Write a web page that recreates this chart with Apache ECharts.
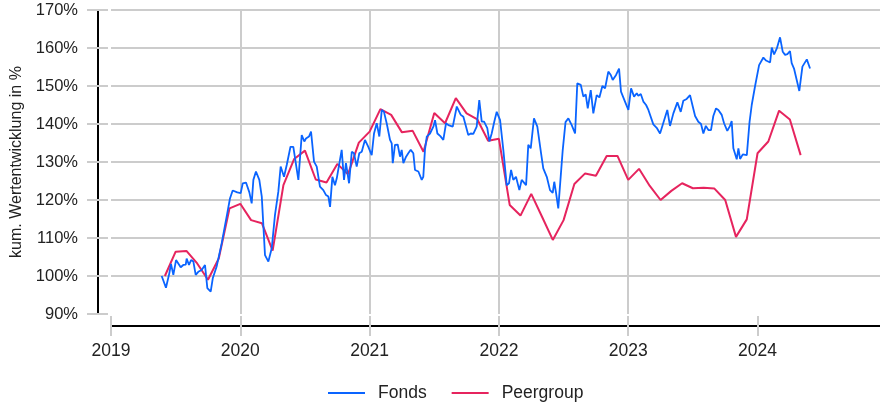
<!DOCTYPE html>
<html>
<head>
<meta charset="utf-8">
<script src="https://cdn.jsdelivr.net/npm/echarts@6/dist/echarts.min.js"></script>
<style>
html,body{margin:0;padding:0;background:#fff;}
#chart{width:880px;height:406px;}
</style>
</head>
<body>
<div id="chart"></div>
<script>
// Fonds: weekly observations (time in decimal years, value in %)
const fondsT = [
2019.392,2019.425,2019.451,2019.464,2019.482,2019.503,2019.513,2019.539,2019.559,2019.578,
2019.585,2019.603,2019.619,2019.637,2019.655,2019.675,2019.701,2019.727,2019.745,2019.771,
2019.787,2019.817,2019.856,2019.882,2019.899,2019.920,2019.941,2019.977,2020.003,2020.019,
2020.044,2020.070,2020.088,2020.101,2020.121,2020.147,2020.166,2020.191,2020.217,2020.243,
2020.268,2020.294,2020.312,2020.338,2020.359,2020.388,2020.410,2020.423,2020.449,2020.475,
2020.495,2020.508,2020.531,2020.547,2020.570,2020.591,2020.616,2020.642,2020.663,2020.681,
2020.694,2020.712,2020.732,2020.746,2020.758,2020.784,2020.802,2020.817,2020.841,2020.862,
2020.879,2020.900,2020.920,2020.939,2020.964,2020.990,2021.016,2021.034,2021.055,2021.075,
2021.094,2021.111,2021.132,2021.158,2021.171,2021.179,2021.196,2021.217,2021.235,2021.248,
2021.261,2021.282,2021.299,2021.318,2021.338,2021.351,2021.377,2021.403,2021.415,2021.428,
2021.442,2021.467,2021.493,2021.506,2021.524,2021.547,2021.570,2021.591,2021.609,2021.643,
2021.674,2021.705,2021.725,2021.738,2021.763,2021.782,2021.802,2021.828,2021.848,2021.867,
2021.885,2021.910,2021.926,2021.944,2021.964,2021.983,2022.009,2022.034,2022.060,2022.078,
2022.094,2022.111,2022.132,2022.158,2022.176,2022.210,2022.227,2022.246,2022.271,2022.297,
2022.326,2022.343,2022.370,2022.395,2022.416,2022.428,2022.442,2022.459,2022.493,2022.515,
2022.537,2022.563,2022.589,2022.606,2022.633,2022.653,2022.671,2022.687,2022.710,2022.730,
2022.756,2022.777,2022.800,2022.821,2022.846,2022.865,2022.880,2022.906,2022.929,2022.944,
2022.975,2023.001,2023.022,2023.045,2023.066,2023.078,2023.097,2023.117,2023.138,2023.156,
2023.169,2023.194,2023.220,2023.246,2023.264,2023.277,2023.302,2023.323,2023.349,2023.380,
2023.406,2023.426,2023.452,2023.478,2023.499,2023.517,2023.542,2023.563,2023.581,2023.600,
2023.620,2023.640,2023.658,2023.679,2023.697,2023.723,2023.741,2023.766,2023.787,2023.800,
2023.813,2023.839,2023.852,2023.865,2023.886,2023.917,2023.938,2023.955,2023.981,2024.012,
2024.045,2024.066,2024.097,2024.110,2024.128,2024.149,2024.174,2024.195,2024.213,2024.231,
2024.251,2024.264,2024.282,2024.303,2024.323,2024.347,2024.381,2024.406
];
const fondsV = [
100.0,96.9,100.7,103.2,100.3,104.2,104.6,102.3,102.9,103.0,
104.6,102.9,104.2,103.8,100.3,101.1,101.6,102.9,96.8,95.9,
99.4,102.5,108.6,113.4,116.5,120.4,122.5,122.0,121.8,124.4,
124.6,122.0,119.1,125.3,127.5,125.3,120.9,105.5,103.8,107.3,
116.0,122.2,128.8,126.1,129.2,134.0,134.0,133.6,125.3,137.1,
135.4,136.2,136.7,138.0,130.1,128.8,123.5,122.6,121.3,120.9,
118.2,126.1,123.9,125.7,125.3,133.2,125.3,129.7,124.4,132.7,
132.3,128.8,132.3,132.7,135.8,134.0,131.8,137.5,140.2,136.7,
143.7,143.2,140.2,135.8,134.9,129.7,134.5,134.6,131.4,133.2,
129.7,131.4,132.3,133.2,132.3,127.9,127.5,125.3,126.1,133.2,
136.7,137.5,139.3,141.0,137.5,136.8,135.8,140.2,139.7,139.3,
144.6,142.4,141.9,141.9,137.1,137.5,137.4,139.3,146.3,140.6,
140.6,138.9,135.4,137.5,140.6,143.2,141.0,133.2,123.9,124.4,
127.9,125.3,126.1,122.6,125.3,123.9,134.5,133.6,141.5,139.3,
132.3,128.3,126.1,122.6,121.9,124.8,121.8,117.8,133.0,140.5,
141.5,139.7,137.5,150.7,150.3,147.2,147.8,144.1,148.9,142.8,
147.6,147.0,150.0,149.4,153.8,152.9,151.6,152.9,154.6,148.5,
145.9,143.7,149.4,147.2,148.1,147.4,147.9,145.9,145.0,143.7,
143.2,139.9,139.0,137.5,139.5,139.0,143.7,139.5,142.8,145.7,
143.2,146.1,146.6,147.6,144.6,142.1,140.6,140.0,137.5,139.5,
138.4,138.4,142.1,144.1,143.7,142.4,140.2,138.2,139.5,140.8,
133.6,130.7,133.6,130.8,132.0,131.8,140.5,145.0,150.0,155.5,
157.5,156.7,156.2,160.1,158.3,159.9,162.8,159.0,158.2,158.4,
159.2,156.0,154.6,151.6,148.7,155.1,157.0,154.6
];
// Peergroup: month-end observations starting May 2019
const peerStartYear = 2019;
const peerStartMonth = 5;
const peerV = [
100.0,106.4,106.6,103.3,99.0,104.6,117.8,119.0,114.7,113.9,
106.7,123.9,130.8,133.0,125.4,124.6,129.5,126.8,135.1,138.0,
143.9,142.4,137.8,138.2,132.7,142.9,140.2,146.8,142.8,141.2,
135.6,136.1,118.7,115.9,121.6,115.6,109.5,114.7,124.2,127.0,
126.4,131.6,131.6,125.3,128.2,123.7,120.0,122.4,124.4,123.1,
123.2,123.0,120.0,110.3,114.9,132.3,135.4,143.5,141.2,131.8
];
const yearTicks = [2019,2020,2021,2022,2023,2024];
const yTicks = [90,100,110,120,130,140,150,160,170];
const seriesNames = ['Fonds','Peergroup'];

const fondsData = fondsT.map((t,i)=>[t,fondsV[i]]);
const peerData = peerV.map((v,i)=>[peerStartYear + (peerStartMonth + i)/12, v]);

const FONT = "'Liberation Sans', Arial, Helvetica, sans-serif";
const GRID = '#cccccc';
const XMAX = 2024.947;

const chart = echarts.init(document.getElementById('chart'), null, {renderer:'canvas'});
chart.setOption({
  animation:false,
  backgroundColor:'#ffffff',
  textStyle:{fontFamily:FONT},
  grid:{left:111,right:0,top:10,bottom:92,containLabel:false},
  legend:{
    top:379,left:323,
    data:seriesNames,
    icon:'rect',itemWidth:37,itemHeight:2,itemGap:25,
    textStyle:{fontFamily:FONT,fontSize:17.5,color:'#222',padding:[0,0,0,8]}
  },
  xAxis:[{
    type:'value',min:yearTicks[0],max:XMAX,interval:1,offset:12,
    axisLine:{show:true,onZero:false,lineStyle:{color:'#000',width:2}},
    axisTick:{show:true,length:10,customValues:yearTicks,lineStyle:{color:GRID,width:2}},
    axisLabel:{show:true,margin:16,fontSize:17.5,color:'#222',fontFamily:FONT,customValues:yearTicks,
      formatter:v=>yearTicks.includes(v)?String(v):''},
    splitLine:{show:true,showMinLine:false,showMaxLine:false,lineStyle:{color:GRID,width:2}}
  },{
    type:'value',min:yearTicks[0],max:XMAX,interval:1,offset:12,position:'bottom',
    axisLine:{show:false},
    axisTick:{show:true,inside:true,length:10,customValues:yearTicks,lineStyle:{color:GRID,width:2}},
    axisLabel:{show:false},splitLine:{show:false}
  }],
  yAxis:[{
    type:'value',min:yTicks[0],max:yTicks[yTicks.length-1],interval:10,offset:13,position:'left',
    name:'kum. Wertentwicklung in %',nameLocation:'middle',nameGap:73,nameRotate:90,
    nameTextStyle:{fontSize:16,color:'#222',fontFamily:FONT},
    axisLine:{show:true,onZero:false,lineStyle:{color:'#000',width:2}},
    axisTick:{show:true,length:11,lineStyle:{color:GRID,width:2}},
    axisLabel:{margin:20,fontSize:16.5,color:'#222',fontFamily:FONT,formatter:v=>v+'%'},
    splitLine:{show:true,showMinLine:false,lineStyle:{color:GRID,width:2}}
  },{
    type:'value',min:yTicks[0],max:yTicks[yTicks.length-1],interval:10,offset:13,position:'left',
    axisLine:{show:false},
    axisTick:{show:true,inside:true,length:10,lineStyle:{color:GRID,width:2}},
    axisLabel:{show:false},splitLine:{show:false}
  }],
  series:[{
    name:seriesNames[0],type:'line',data:fondsData,showSymbol:false,symbol:'none',
    xAxisIndex:0,yAxisIndex:0,
    lineStyle:{color:'#0a64ff',width:1.8},itemStyle:{color:'#0a64ff'},z:3
  },{
    name:seriesNames[1],type:'line',data:peerData,showSymbol:false,symbol:'none',
    xAxisIndex:0,yAxisIndex:0,
    lineStyle:{color:'#e6245e',width:2},itemStyle:{color:'#e6245e'},z:2
  }]
});
</script>
</body>
</html>
